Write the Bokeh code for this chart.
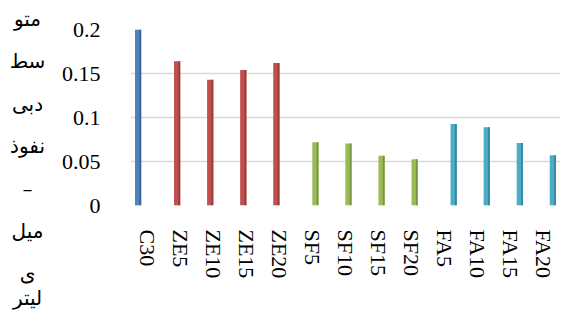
from bokeh.plotting import figure
from bokeh.models import FactorRange, Range1d, FixedTicker, ColumnDataSource
from bokeh.layouts import row
from bokeh.core.properties import value
from bokeh.transform import dodge
from bokeh.embed import file_html
from bokeh.resources import INLINE

categories = ["C30", "ZE5", "ZE10", "ZE15", "ZE20", "SF5", "SF10", "SF15", "SF20",
              "FA5", "FA10", "FA15", "FA20"]

c30_cats = ["C30"]
c30_vals = [0.200]
ze_cats = ["ZE5", "ZE10", "ZE15", "ZE20"]
ze_vals = [0.164, 0.143, 0.154, 0.162]
sf_cats = ["SF5", "SF10", "SF15", "SF20"]
sf_vals = [0.072, 0.0705, 0.0565, 0.0525]
fa_cats = ["FA5", "FA10", "FA15", "FA20"]
fa_vals = [0.0925, 0.089, 0.071, 0.057]

y_ticks = [0, 0.05, 0.1, 0.15, 0.2]
y_tick_labels = ["0", "0.05", "0.1", "0.15", "0.2"]

y_title_lines = ["متو", "سط", "دبی", "نفوذ", "–", "میل", "ی", "لیتر"]

series = [
    (c30_cats, c30_vals, "#4F81BD", "#3A6494"),
    (ze_cats, ze_vals, "#C0504D", "#973C3A"),
    (sf_cats, sf_vals, "#9BBB59", "#789446"),
    (fa_cats, fa_vals, "#4BACC6", "#35879E"),
]

H = 310
LW = 50  # width of the left title strip

# ---- left strip carrying the wrapped y-axis title ----
t = figure(width=LW, height=H, x_range=Range1d(0, LW), y_range=Range1d(H, 0),
           output_backend="svg", toolbar_location=None,
           min_border_left=0, min_border_right=0, min_border_top=0, min_border_bottom=0)
t.frame_align = False
t.axis.visible = False
t.grid.visible = False
t.outline_line_color = None
n = len(y_title_lines)
ty = [18 + i * 42.5 for i in range(n - 1)] + [297]
t.text(x=[27] * n, y=ty, text=y_title_lines, text_align="center",
       text_baseline="middle", text_font=value("DejaVu Sans"),
       text_font_size="20px", text_color="#000000")

# ---- main chart ----
FW, FH = 430, 176
BL, BR, BT, BB = 130 - LW, 3, 29, 105
p = figure(frame_width=FW, frame_height=FH,
           x_range=FactorRange(*categories, range_padding=0),
           y_range=Range1d(0, 0.2), output_backend="svg", toolbar_location=None,
           min_border_left=BL, min_border_right=BR, min_border_top=BT,
           min_border_bottom=BB)
p.frame_align = False

slot = 0.18
for i, (cats, vals, col, dark) in enumerate(series):
    src = ColumnDataSource(dict(cat=cats, val=vals))
    off = (i - 1.5) * slot
    p.vbar(x=dodge("cat", off, range=p.x_range), top="val", width=slot * 1.05,
           source=src, fill_color=col, line_color=None)
    p.vbar(x=dodge("cat", off + slot * 0.36, range=p.x_range), top="val",
           width=slot * 0.3, source=src, fill_color=dark, line_color=None)

p.outline_line_color = None
p.background_fill_color = "white"
p.border_fill_color = "white"

p.xgrid.grid_line_color = None
p.ygrid.grid_line_color = "#D9D9D9"
p.ygrid.grid_line_width = 1.5
p.ygrid.level = "underlay"

p.yaxis.ticker = FixedTicker(ticks=y_ticks)
p.yaxis.major_label_overrides = {tk: lb for tk, lb in zip(y_ticks, y_tick_labels)}
p.yaxis.axis_line_color = None
p.yaxis.major_tick_line_color = None
p.yaxis.minor_tick_line_color = None
p.yaxis.major_label_standoff = 24
p.yaxis.major_label_text_font = "Liberation Serif"
p.yaxis.major_label_text_font_size = "22px"
p.yaxis.major_label_text_color = "#000000"

p.xaxis.axis_line_color = None
p.xaxis.major_tick_line_color = None
p.xaxis.minor_tick_line_color = None
p.xaxis.major_label_orientation = "vertical"
p.xaxis.major_label_standoff = 18
p.xaxis.major_label_text_font = "Liberation Serif"
p.xaxis.major_label_text_font_size = "22px"
p.xaxis.major_label_text_color = "#000000"

layout = row(t, p, spacing=0)
open("out.html", "w").write(file_html(layout, INLINE))
